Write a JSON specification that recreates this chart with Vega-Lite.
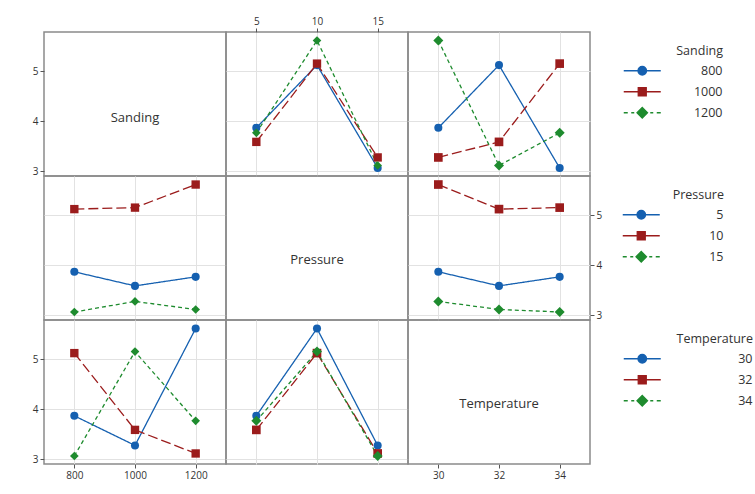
{
  "$schema": "https://vega.github.io/schema/vega-lite/v6.json",
  "padding": {"left": 31, "top": 15, "right": 5, "bottom": 5},
  "background": "white",
  "datasets": {
    "runs": [
      {"Sanding": 800, "Pressure": 5, "Temperature": 30, "Mean": 3.87},
      {"Sanding": 800, "Pressure": 10, "Temperature": 32, "Mean": 5.12},
      {"Sanding": 800, "Pressure": 15, "Temperature": 34, "Mean": 3.07},
      {"Sanding": 1000, "Pressure": 5, "Temperature": 32, "Mean": 3.59},
      {"Sanding": 1000, "Pressure": 10, "Temperature": 34, "Mean": 5.15},
      {"Sanding": 1000, "Pressure": 15, "Temperature": 30, "Mean": 3.28},
      {"Sanding": 1200, "Pressure": 5, "Temperature": 34, "Mean": 3.77},
      {"Sanding": 1200, "Pressure": 10, "Temperature": 30, "Mean": 5.61},
      {"Sanding": 1200, "Pressure": 15, "Temperature": 32, "Mean": 3.12}
    ]
  },
  "config": {
    "view": {"stroke": "#8a8a8a", "strokeWidth": 1.5},
    "axis": {"grid": true, "gridColor": "#e2e2e2", "gridWidth": 1, "domain": false, "labelFont": "Open Sans", "labelFontSize": 10, "labelColor": "#333333", "tickColor": "#555555", "tickSize": 4, "labelPadding": 2, "title": null, "format": "d"},
    "text": {"font": "Open Sans"},
    "legend": {"orient": "right", "titleAnchor": "end", "titleFont": "Open Sans", "titleFontSize": 12.5, "titleFontWeight": "normal", "titleColor": "#333333", "titlePadding": 7, "labelFont": "Open Sans", "labelFontSize": 12.5, "labelColor": "#333333", "labelAlign": "right", "symbolSize": 100, "symbolStrokeWidth": 1.3, "symbolOpacity": 1, "rowPadding": 6, "padding": 13}
  },
  "concat": [
    {
      "width": 182, "height": 144,
      "data": {"values": [{"label": "Sanding"}]},
      "mark": {"type": "text", "fontSize": 13, "fill": "#333333", "dy": 14},
      "encoding": {
        "text": {"field": "label", "type": "nominal"},
        "x": {"datum": 0, "type": "quantitative", "scale": {"domain": [-1, 1]}, "axis": null},
        "y": {"datum": 0, "type": "quantitative", "scale": {"domain": [-1, 1]}, "axis": null}
      }
    },
    {
      "width": 182, "height": 144,
      "data": {"name": "runs"},
      "encoding": {
        "x": {"field": "Pressure", "type": "quantitative", "scale": {"domain": [2.5, 17.5], "nice": false, "zero": false}, "axis": {"values": [5, 10, 15], "orient": "top"}},
        "y": {"field": "Mean", "type": "quantitative", "scale": {"domain": [2.91, 5.78], "nice": false, "zero": false}, "axis": {"values": [3, 4, 5], "orient": "left", "offset": 182}}
      },
      "layer": [
        {"mark": {"type": "line", "strokeWidth": 1.3}, "encoding": {
          "color": {"field": "Sanding", "type": "nominal", "scale": {"domain": [800, 1000, 1200], "range": ["#1560B0", "#9B1C1C", "#1E8B2E"]}, "legend": null},
          "strokeDash": {"field": "Sanding", "type": "nominal", "scale": {"domain": [800, 1000, 1200], "range": [[1, 0], [10, 4], [4, 3]]}, "legend": null}}},
        {"mark": {"type": "point", "filled": true, "opacity": 1}, "encoding": {
          "color": {"field": "Sanding", "type": "nominal", "scale": {"domain": [800, 1000, 1200], "range": ["#1560B0", "#9B1C1C", "#1E8B2E"]}, "legend": null},
          "shape": {"field": "Sanding", "type": "nominal", "scale": {"domain": [800, 1000, 1200], "range": ["circle", "square", "diamond"]}, "legend": null},
          "size": {"field": "Sanding", "type": "ordinal", "scale": {"domain": [800, 1000, 1200], "range": [65, 75, 100]}, "legend": null}}}
      ]
    },
    {
      "width": 182, "height": 144,
      "data": {"name": "runs"},
      "encoding": {
        "x": {"field": "Temperature", "type": "quantitative", "scale": {"domain": [29, 35], "nice": false, "zero": false}, "axis": {"values": [30, 32, 34], "labels": false, "ticks": false}},
        "y": {"field": "Mean", "type": "quantitative", "scale": {"domain": [2.91, 5.78], "nice": false, "zero": false}, "axis": {"values": [3, 4, 5], "labels": false, "ticks": false}}
      },
      "layer": [
        {"mark": {"type": "line", "strokeWidth": 1.3}, "encoding": {
          "color": {"field": "Sanding", "type": "nominal", "scale": {"range": ["#1560B0", "#9B1C1C", "#1E8B2E"]}, "legend": null},
          "strokeDash": {"field": "Sanding", "type": "nominal", "scale": {"range": [[1, 0], [10, 4], [4, 3]]}, "legend": null}}},
        {"transform": [{"filter": {"field": "Sanding", "equal": 800}}], "mark": {"type": "point", "shape": "circle", "filled": true, "opacity": 1, "size": 65}, "encoding": {
          "color": {"field": "Sanding", "type": "nominal", "scale": {"range": ["#1560B0", "#9B1C1C", "#1E8B2E"]}, "legend": null}}},
        {"transform": [{"filter": {"field": "Sanding", "equal": 1000}}], "mark": {"type": "point", "shape": "square", "filled": true, "opacity": 1, "size": 75}, "encoding": {
          "color": {"field": "Sanding", "type": "nominal", "scale": {"range": ["#1560B0", "#9B1C1C", "#1E8B2E"]}, "legend": null}}},
        {"transform": [{"filter": {"field": "Sanding", "equal": 1200}}], "mark": {"type": "point", "shape": "diamond", "filled": true, "opacity": 1, "size": 100}, "encoding": {
          "color": {"field": "Sanding", "type": "nominal", "scale": {"range": ["#1560B0", "#9B1C1C", "#1E8B2E"]}, "legend": null}}},
        {"mark": {"type": "point", "opacity": 0, "strokeWidth": 1.3, "size": 100}, "encoding": {
          "fill": {"field": "Sanding", "type": "nominal", "scale": {"domain": [800, 1000, 1200], "range": ["#1560B0", "#9B1C1C", "#1E8B2E"]}, "legend": {"title": "Sanding", "offset": 33, "labelOffset": 74}},
          "stroke": {"field": "Sanding", "type": "nominal", "scale": {"domain": [800, 1000, 1200], "range": ["#1560B0", "#9B1C1C", "#1E8B2E"]}, "legend": {"title": "Sanding", "offset": 33, "labelOffset": 74}},
          "shape": {"field": "Sanding", "type": "nominal", "scale": {"domain": [800, 1000, 1200], "range": ["M-3.7,0H3.7M0.85,0A0.85,0.85,0,1,1,-0.85,0A0.85,0.85,0,1,1,0.85,0Z", "M-3.7,0H3.7M-0.8,-0.8H0.8V0.8H-0.8Z", "M-3.7,0H-2.9M-2.2,0H-1.6M1.6,0H2.2M2.9,0H3.7M0,-1.05L1.05,0L0,1.05L-1.05,0Z"]}, "legend": {"title": "Sanding", "offset": 33, "labelOffset": 74}}}}
      ]
    },
    {
      "width": 182, "height": 144,
      "data": {"name": "runs"},
      "encoding": {
        "x": {"field": "Sanding", "type": "quantitative", "scale": {"domain": [700, 1300], "nice": false, "zero": false}, "axis": {"values": [800, 1000, 1200], "labels": false, "ticks": false}},
        "y": {"field": "Mean", "type": "quantitative", "scale": {"domain": [2.91, 5.78], "nice": false, "zero": false}, "axis": {"values": [3, 4, 5], "labels": false, "ticks": false}}
      },
      "layer": [
        {"mark": {"type": "line", "strokeWidth": 1.3}, "encoding": {
          "color": {"field": "Pressure", "type": "nominal", "scale": {"domain": [5, 10, 15], "range": ["#1560B0", "#9B1C1C", "#1E8B2E"]}, "legend": null},
          "strokeDash": {"field": "Pressure", "type": "nominal", "scale": {"domain": [5, 10, 15], "range": [[1, 0], [10, 4], [4, 3]]}, "legend": null}}},
        {"mark": {"type": "point", "filled": true, "opacity": 1}, "encoding": {
          "color": {"field": "Pressure", "type": "nominal", "scale": {"domain": [5, 10, 15], "range": ["#1560B0", "#9B1C1C", "#1E8B2E"]}, "legend": null},
          "shape": {"field": "Pressure", "type": "nominal", "scale": {"domain": [5, 10, 15], "range": ["circle", "square", "diamond"]}, "legend": null},
          "size": {"field": "Pressure", "type": "ordinal", "scale": {"domain": [5, 10, 15], "range": [65, 75, 100]}, "legend": null}}}
      ]
    },
    {
      "width": 182, "height": 144,
      "data": {"values": [{"label": "Pressure"}]},
      "mark": {"type": "text", "fontSize": 13, "fill": "#333333", "dy": 12},
      "encoding": {
        "text": {"field": "label", "type": "nominal"},
        "x": {"datum": 0, "type": "quantitative", "scale": {"domain": [-1, 1]}, "axis": null},
        "y": {"datum": 0, "type": "quantitative", "scale": {"domain": [-1, 1]}, "axis": null}
      }
    },
    {
      "width": 182, "height": 144,
      "data": {"name": "runs"},
      "encoding": {
        "x": {"field": "Temperature", "type": "quantitative", "scale": {"domain": [29, 35], "nice": false, "zero": false}, "axis": {"values": [30, 32, 34], "orient": "bottom", "offset": 144}},
        "y": {"field": "Mean", "type": "quantitative", "scale": {"domain": [2.91, 5.78], "nice": false, "zero": false}, "axis": {"values": [3, 4, 5], "orient": "right"}}
      },
      "layer": [
        {"mark": {"type": "line", "strokeWidth": 1.3}, "encoding": {
          "color": {"field": "Pressure", "type": "nominal", "scale": {"range": ["#1560B0", "#9B1C1C", "#1E8B2E"]}, "legend": null},
          "strokeDash": {"field": "Pressure", "type": "nominal", "scale": {"range": [[1, 0], [10, 4], [4, 3]]}, "legend": null}}},
        {"transform": [{"filter": {"field": "Pressure", "equal": 5}}], "mark": {"type": "point", "shape": "circle", "filled": true, "opacity": 1, "size": 65}, "encoding": {
          "color": {"field": "Pressure", "type": "nominal", "scale": {"range": ["#1560B0", "#9B1C1C", "#1E8B2E"]}, "legend": null}}},
        {"transform": [{"filter": {"field": "Pressure", "equal": 10}}], "mark": {"type": "point", "shape": "square", "filled": true, "opacity": 1, "size": 75}, "encoding": {
          "color": {"field": "Pressure", "type": "nominal", "scale": {"range": ["#1560B0", "#9B1C1C", "#1E8B2E"]}, "legend": null}}},
        {"transform": [{"filter": {"field": "Pressure", "equal": 15}}], "mark": {"type": "point", "shape": "diamond", "filled": true, "opacity": 1, "size": 100}, "encoding": {
          "color": {"field": "Pressure", "type": "nominal", "scale": {"range": ["#1560B0", "#9B1C1C", "#1E8B2E"]}, "legend": null}}},
        {"mark": {"type": "point", "opacity": 0, "strokeWidth": 1.3, "size": 100}, "encoding": {
          "fill": {"field": "Pressure", "type": "nominal", "scale": {"domain": [5, 10, 15], "range": ["#1560B0", "#9B1C1C", "#1E8B2E"]}, "legend": {"title": "Pressure", "offset": 20, "labelOffset": 76}},
          "stroke": {"field": "Pressure", "type": "nominal", "scale": {"domain": [5, 10, 15], "range": ["#1560B0", "#9B1C1C", "#1E8B2E"]}, "legend": {"title": "Pressure", "offset": 20, "labelOffset": 76}},
          "shape": {"field": "Pressure", "type": "nominal", "scale": {"domain": [5, 10, 15], "range": ["M-3.7,0H3.7M0.85,0A0.85,0.85,0,1,1,-0.85,0A0.85,0.85,0,1,1,0.85,0Z", "M-3.7,0H3.7M-0.8,-0.8H0.8V0.8H-0.8Z", "M-3.7,0H-2.9M-2.2,0H-1.6M1.6,0H2.2M2.9,0H3.7M0,-1.05L1.05,0L0,1.05L-1.05,0Z"]}, "legend": {"title": "Pressure", "offset": 20, "labelOffset": 76}}}}
      ]
    },
    {
      "width": 182, "height": 144,
      "data": {"name": "runs"},
      "encoding": {
        "x": {"field": "Sanding", "type": "quantitative", "scale": {"domain": [700, 1300], "nice": false, "zero": false}, "axis": {"values": [800, 1000, 1200], "orient": "bottom"}},
        "y": {"field": "Mean", "type": "quantitative", "scale": {"domain": [2.91, 5.78], "nice": false, "zero": false}, "axis": {"values": [3, 4, 5], "orient": "left"}}
      },
      "layer": [
        {"mark": {"type": "line", "strokeWidth": 1.3}, "encoding": {
          "color": {"field": "Temperature", "type": "nominal", "scale": {"domain": [30, 32, 34], "range": ["#1560B0", "#9B1C1C", "#1E8B2E"]}, "legend": null},
          "strokeDash": {"field": "Temperature", "type": "nominal", "scale": {"domain": [30, 32, 34], "range": [[1, 0], [10, 4], [4, 3]]}, "legend": null}}},
        {"mark": {"type": "point", "filled": true, "opacity": 1}, "encoding": {
          "color": {"field": "Temperature", "type": "nominal", "scale": {"domain": [30, 32, 34], "range": ["#1560B0", "#9B1C1C", "#1E8B2E"]}, "legend": null},
          "shape": {"field": "Temperature", "type": "nominal", "scale": {"domain": [30, 32, 34], "range": ["circle", "square", "diamond"]}, "legend": null},
          "size": {"field": "Temperature", "type": "ordinal", "scale": {"domain": [30, 32, 34], "range": [65, 75, 100]}, "legend": null}}}
      ]
    },
    {
      "width": 182, "height": 144,
      "data": {"name": "runs"},
      "encoding": {
        "x": {"field": "Pressure", "type": "quantitative", "scale": {"domain": [2.5, 17.5], "nice": false, "zero": false}, "axis": {"values": [5, 10, 15], "labels": false, "ticks": false}},
        "y": {"field": "Mean", "type": "quantitative", "scale": {"domain": [2.91, 5.78], "nice": false, "zero": false}, "axis": {"values": [3, 4, 5], "labels": false, "ticks": false}}
      },
      "layer": [
        {"mark": {"type": "line", "strokeWidth": 1.3}, "encoding": {
          "color": {"field": "Temperature", "type": "nominal", "scale": {"range": ["#1560B0", "#9B1C1C", "#1E8B2E"]}, "legend": null},
          "strokeDash": {"field": "Temperature", "type": "nominal", "scale": {"range": [[1, 0], [10, 4], [4, 3]]}, "legend": null}}},
        {"transform": [{"filter": {"field": "Temperature", "equal": 30}}], "mark": {"type": "point", "shape": "circle", "filled": true, "opacity": 1, "size": 65}, "encoding": {
          "color": {"field": "Temperature", "type": "nominal", "scale": {"range": ["#1560B0", "#9B1C1C", "#1E8B2E"]}, "legend": null}}},
        {"transform": [{"filter": {"field": "Temperature", "equal": 32}}], "mark": {"type": "point", "shape": "square", "filled": true, "opacity": 1, "size": 75}, "encoding": {
          "color": {"field": "Temperature", "type": "nominal", "scale": {"range": ["#1560B0", "#9B1C1C", "#1E8B2E"]}, "legend": null}}},
        {"transform": [{"filter": {"field": "Temperature", "equal": 34}}], "mark": {"type": "point", "shape": "diamond", "filled": true, "opacity": 1, "size": 100}, "encoding": {
          "color": {"field": "Temperature", "type": "nominal", "scale": {"range": ["#1560B0", "#9B1C1C", "#1E8B2E"]}, "legend": null}}},
        {"mark": {"type": "point", "opacity": 0, "strokeWidth": 1.3, "size": 100}, "encoding": {
          "fill": {"field": "Temperature", "type": "nominal", "scale": {"domain": [30, 32, 34], "range": ["#1560B0", "#9B1C1C", "#1E8B2E"]}, "legend": {"title": "Temperature", "offset": 215, "labelOffset": 104}},
          "stroke": {"field": "Temperature", "type": "nominal", "scale": {"domain": [30, 32, 34], "range": ["#1560B0", "#9B1C1C", "#1E8B2E"]}, "legend": {"title": "Temperature", "offset": 215, "labelOffset": 104}},
          "shape": {"field": "Temperature", "type": "nominal", "scale": {"domain": [30, 32, 34], "range": ["M-3.7,0H3.7M0.85,0A0.85,0.85,0,1,1,-0.85,0A0.85,0.85,0,1,1,0.85,0Z", "M-3.7,0H3.7M-0.8,-0.8H0.8V0.8H-0.8Z", "M-3.7,0H-2.9M-2.2,0H-1.6M1.6,0H2.2M2.9,0H3.7M0,-1.05L1.05,0L0,1.05L-1.05,0Z"]}, "legend": {"title": "Temperature", "offset": 215, "labelOffset": 104}}}}
      ]
    },
    {
      "width": 182, "height": 144,
      "data": {"values": [{"label": "Temperature"}]},
      "mark": {"type": "text", "fontSize": 13, "fill": "#333333", "dy": 12},
      "encoding": {
        "text": {"field": "label", "type": "nominal"},
        "x": {"datum": 0, "type": "quantitative", "scale": {"domain": [-1, 1]}, "axis": null},
        "y": {"datum": 0, "type": "quantitative", "scale": {"domain": [-1, 1]}, "axis": null}
      }
    }
  ],
  "columns": 3,
  "spacing": 0,
  "bounds": "flush",
  "resolve": {"scale": {"color": "independent", "shape": "independent", "strokeDash": "independent", "size": "independent", "fill": "independent", "stroke": "independent"}, "legend": {"color": "independent", "fill": "independent", "stroke": "independent", "shape": "independent"}}
}
